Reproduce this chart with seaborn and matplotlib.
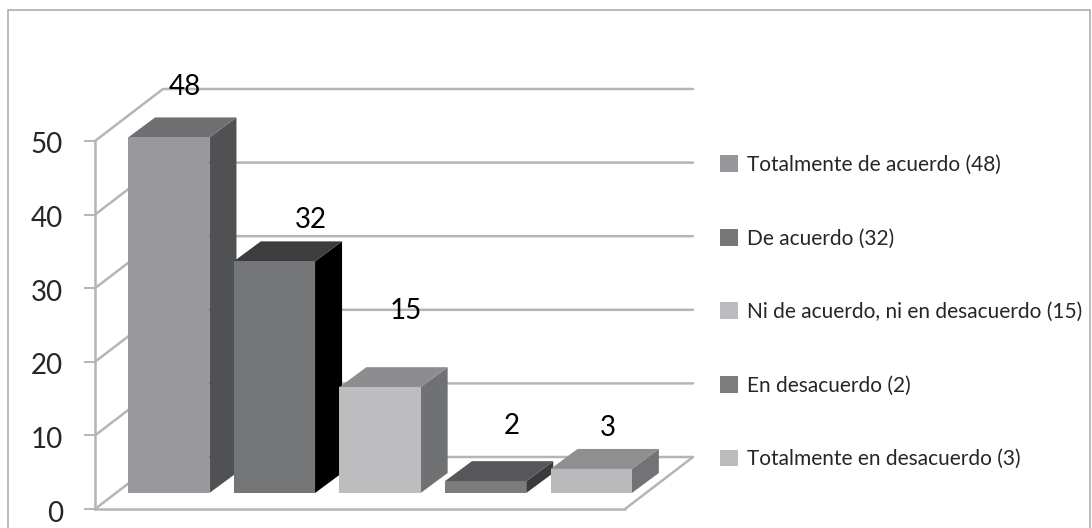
import matplotlib
matplotlib.use('Agg')
import matplotlib.pyplot as plt
import seaborn as sns
import pandas as pd
from matplotlib.lines import Line2D
from matplotlib.patches import Polygon, Rectangle
from matplotlib.transforms import IdentityTransform, ScaledTranslation

categories = ['Totalmente de acuerdo (48)', 'De acuerdo (32)',
              'Ni de acuerdo, ni en desacuerdo (15)', 'En desacuerdo (2)',
              'Totalmente en desacuerdo (3)']
labels = [48, 32, 15, 2, 3]
# bar heights as they read against the axis, they come out a bit under the labels
values = [48.05, 31.3, 14.3, 1.6, 3.25]
y_ticks = [0, 10, 20, 30, 40, 50]

front_colors = ['#98989c', '#747577', '#bdbdbf', '#7c7c7f', '#bababc']
top_colors = ['#6f6f72', '#3d3d3f', '#8d8d8f', '#57575a', '#8f8f91']
side_colors = ['#505153', '#000000', '#707173', '#3a3a3c', '#737375']
legend_colors = ['#97979b', '#77777a', '#bcbcbe', '#7c7c7f', '#bcbcbe']
grid_color = '#b4b5b7'

W, H = 1092, 528
sns.set_style('white')
plt.rcParams['font.family'] = ['Lato', 'DejaVu Sans']

fig = plt.figure(figsize=(W / 100, H / 100), dpi=100, facecolor='white')


def px_axes(left, right, top, bottom):
    return fig.add_axes([left / W, 1 - bottom / H, (right - left) / W, (bottom - top) / H])


# wall axes carries the value ticks, bars sit on a plane a bit further back
ax = px_axes(95, 625, 141, 509)
ax.set_xlim(0, 1)
ax.set_ylim(0, 50)
ax.set_yticks(y_ticks)
ax.set_xticks([])
ax.tick_params(axis='y', left=True, length=8, width=1.4, color=grid_color, labelsize=20, pad=15)
ax.patch.set_visible(False)
sns.despine(ax=ax, top=True, right=True)
for s in ['left', 'bottom']:
    ax.spines[s].set_color(grid_color)
    ax.spines[s].set_linewidth(1.8)
shift = ScaledTranslation(0, -2 / 100, fig.dpi_scale_trans)
for t in ax.get_yticklabels():
    t.set_transform(t.get_transform() + shift)

depth_x, depth_y = 68, 52
px = IdentityTransform()
for v in y_ticks:
    x0, y0 = ax.transData.transform((0, v))
    x1 = ax.transData.transform((1, v))[0]
    ax.add_line(Line2D([x0, x0 + depth_x, x1 + depth_x], [y0, y0 + depth_y, y0 + depth_y],
                       transform=px, color=grid_color, lw=1.8, clip_on=False))
x1, y0 = ax.transData.transform((1, 0))
ax.add_line(Line2D([x1, x1 + depth_x], [y0, y0 + depth_y], transform=px,
                   color=grid_color, lw=1.8, clip_on=False))

ax_bars = px_axes(116, 644, 123, 493)
ax_bars.set_zorder(ax.get_zorder() + 1)
ax_bars.patch.set_visible(False)
df = pd.DataFrame({'categoria': categories, 'valor': values})
sns.barplot(data=df, x='categoria', y='valor', hue='categoria', palette=legend_colors,
            dodge=False, width=0.77, saturation=1, ax=ax_bars, legend=False)
ax_bars.set_xlim(-0.5, 4.5)
ax_bars.set_ylim(0, 50)
ax_bars.axis('off')

bar_dx, bar_dy = 27, 20
label_offsets = [(16, 50), (36, 41), (26, 76), (26, 55), (17, 41)]
for i, bar in enumerate(ax_bars.patches):
    bar.set_facecolor(front_colors[i])
    bar.set_edgecolor('none')
    bar.set_zorder(3 + i * 3)
    (l, b), (r, t) = ax_bars.transData.transform(
        [(bar.get_x(), 0), (bar.get_x() + bar.get_width(), bar.get_height())])
    ax_bars.add_patch(Polygon([(r, b), (r + bar_dx, b + bar_dy), (r + bar_dx, t + bar_dy), (r, t)],
                              transform=px, facecolor=side_colors[i], edgecolor='none',
                              clip_on=False, zorder=2 + i * 3))
    ax_bars.add_patch(Polygon([(l, t), (l + bar_dx, t + bar_dy), (r + bar_dx, t + bar_dy), (r, t)],
                              transform=px, facecolor=top_colors[i], edgecolor='none',
                              clip_on=False, zorder=2 + i * 3))
    ox, oy = label_offsets[i]
    ax_bars.annotate(str(labels[i]), xy=((l + r) / 2, t), xycoords=px,
                     xytext=(ox * 0.72, oy * 0.72), textcoords='offset points',
                     ha='center', va='center', fontsize=20, color='black',
                     annotation_clip=False, zorder=30)

handles = [Rectangle((0, 0), 1, 1, facecolor=c, edgecolor='none') for c in legend_colors]
ax_bars.legend(handles, categories, loc='upper left',
               bbox_to_anchor=(720 / W, 1 - 155 / H), bbox_transform=fig.transFigure,
               frameon=False, fontsize=15, borderpad=0, borderaxespad=0,
               handlelength=0.865, handleheight=0.865, handletextpad=0.43,
               labelspacing=2.57)

fig.patches.append(Rectangle((8 / W, -0.01), 1082 / W, 1 - 10 / H + 0.01, transform=fig.transFigure,
                             fill=False, edgecolor='#aeaeae', linewidth=1.2, figure=fig))

fig.savefig('out.png', dpi=100, facecolor='white')
